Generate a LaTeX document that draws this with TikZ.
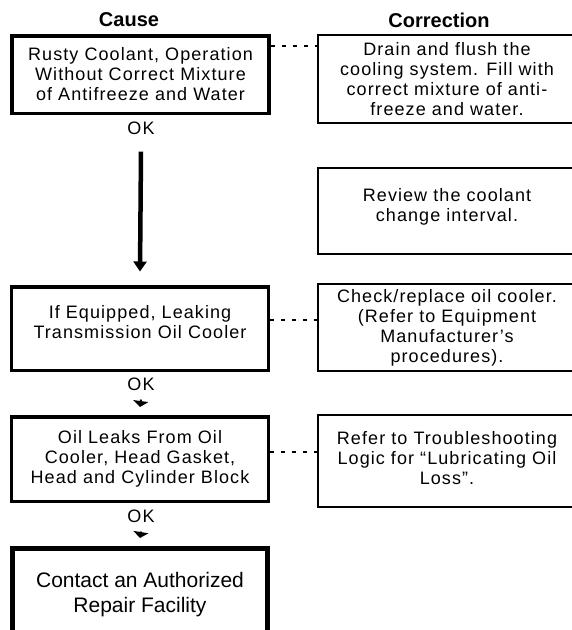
\documentclass[tikz,border=0pt]{standalone}
\usepackage{fontspec}
\setmainfont{Liberation Sans}
\newfontfamily\scanfont{Liberation Sans}[LetterSpace=6]
\usetikzlibrary{arrows.meta}
\begin{document}
\begin{tikzpicture}[x=1pt,y=-1pt,
  scantext/.style={font=\scanfont\fontsize{18}{20}\selectfont},
  causebox/.style={draw, line width=3.5pt, minimum width=257pt, align=center, inner sep=0pt, scantext},
  corrbox/.style={draw, line width=2pt, minimum width=258pt, align=center, inner sep=0pt, scantext},
  endbox/.style={draw, line width=5pt, minimum width=255pt, align=center, inner sep=0pt, font=\fontsize{21}{25}\selectfont},
  header/.style={font=\bfseries\fontsize{20}{24}\selectfont, inner sep=0pt},
  oklabel/.style={scantext, inner sep=0pt},
  dots/.style={line width=1.5pt, dash pattern=on 4pt off 7pt},
  bigarrow/.style={line width=4.5pt, -{Triangle[length=10pt,width=13pt]}},
  smallarrow/.style={line width=2pt, -{Triangle[length=6pt,width=15pt]}}
]
\useasboundingbox (0,0) rectangle (572,630);
\clip (0,0) rectangle (572,630);

\node[header] (hcause) at (129,20) {Cause};
\node[header] (hcorr) at (439,20) {Correction};

\node[causebox, minimum height=77.5pt] (box1) at (140.5,74.5)
  {Rusty Coolant, Operation\\Without Correct Mixture\\of Antifreeze and Water};
\node[corrbox, minimum height=88pt] (c1) at (447,79)
  {Drain and flush the\\cooling system. Fill with\\correct mixture of anti-\\freeze and water.};
\node[oklabel] (ok1) at (141,128) {OK};

\node[corrbox, minimum height=86pt] (c2) at (447,211)
  {Review the coolant\\change interval.\\[-7pt]};

\node[causebox, minimum height=83.5pt] (box2) at (140,328.5)
  {If Equipped, Leaking\\Transmission Oil Cooler\\[-6pt]};
\node[corrbox, minimum height=87pt] (c3) at (447,327.5)
  {Check/replace oil cooler.\\(Refer to Equipment\\Manufacturer’s\\procedures).};
\node[oklabel] (ok2) at (141,384) {OK};

\node[causebox, minimum height=84.5pt] (box3) at (140,459)
  {Oil Leaks From Oil\\Cooler, Head Gasket,\\Head and Cylinder Block};
\node[corrbox, minimum height=92pt] (c4) at (447,461)
  {Refer to Troubleshooting\\Logic for “Lubricating Oil\\Loss”.\\[-14pt]};
\node[oklabel] (ok3) at (141,516) {OK};

\node[endbox, minimum height=92pt] (box5) at (140,594.5)
  {Contact an Authorized\\Repair Facility};

\coordinate (d1) at (0,46);
\coordinate (d2) at (0,320);
\coordinate (d3) at (0,452);
\draw[dots] (box1.east |- d1) -- (c1.west |- d1);
\draw[dots] (box2.east |- d2) -- (c3.west |- d2);
\draw[dots] (box3.east |- d3) -- (c4.west |- d3);

\draw[bigarrow] ([yshift=-17pt]ok1.south) -- ([yshift=13.5pt]box2.north);
\draw[smallarrow] ([yshift=-9pt]ok2.south) -- ([yshift=8pt]box3.north);
\draw[smallarrow] ([yshift=-9pt]ok3.south) -- ([yshift=8pt]box5.north);
\end{tikzpicture}
\end{document}
